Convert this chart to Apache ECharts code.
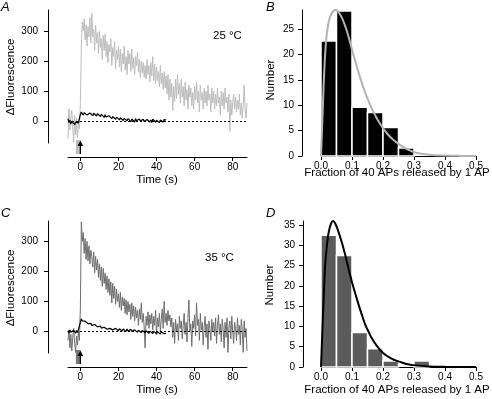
<!DOCTYPE html>
<html>
<head>
<meta charset="utf-8">
<script src="https://cdn.jsdelivr.net/npm/echarts@6/dist/echarts.min.js"></script>
<style>
  html, body { margin: 0; padding: 0; background: #fff; }
  #main { width: 492px; height: 399px; }
</style>
</head>
<body>
<div id="main"></div>
<script>
  // traces sampled every 0.5 s starting at -6.5 s
  var traceStart = -6.5;
  var traceStep = 0.5;

  var gray25 = [
    -60, 40, -30, 15, 35, -20, -70, 20, -45, 10,
    -55, 5, -25, 60, 250, 330, 300, 340, 270, 320,
    250, 315, 280, 345, 260, 360, 280, 305, 235, 320,
    260, 295, 225, 300, 245, 275, 205, 285, 235, 290,
    215, 265, 195, 255, 230, 275, 185, 245, 215, 265,
    175, 235, 205, 250, 180, 240, 165, 225, 190, 250,
    170, 215, 155, 235, 190, 225, 165, 240, 175, 210,
    155, 215, 185, 230, 165, 205, 145, 200, 160, 195,
    145, 185, 140, 205, 155, 185, 130, 195, 150, 215,
    135, 190, 125, 180, 135, 165, 115, 185, 125, 160,
    105, 165, 110, 150, 90, 155, 70, 140, 80, 125,
    35, 115, 65, 140, 75, 155, 90, 125, 60, 140,
    80, 115, 50, 130, 70, 105, 40, 120, 80, 110,
    50, 95, 40, 115, 70, 130, 60, 100, 30, 120,
    70, 95, 40, 110, 60, 100, 50, 120, 70, 90,
    30, 110, 60, 100, 40, 90, 50, 110, 60, 80,
    20, 100, 50, 95, 40, 110, 60, 80, 30, 90,
    -35, 70, 20, 60, 90, 40, 80, 30, 70, 40,
    90, 20, 60, 10, 50, 120, 40, 10, 60
  ];
  var black25 = [
    8, -5, 3, -10, 0, -6, 4, -12, -3, -8,
    2, -6, -2, 22, 30, 25, 20, 28, 22, 26,
    20, 25, 19, 27, 21, 24, 18, 26, 20, 23,
    17, 25, 19, 22, 15, 23, 17, 20, 12, 21,
    14, 19, 10, 18, 12, 16, 8, 15, 10, 14,
    6, 13, 8, 12, 4, 11, 6, 10, 2, 9,
    5, 10, 1, 8, 3, 9, -2, 7, 2, 6,
    -3, 8, 1, 6, -4, 7, 0, 5, -5, 6,
    -1, 4, -6, 5, 0, 7, -3, 4, -5, 6,
    0, 5, -4, 3, -2, 6, -5, 4, 0, 7,
    -3, 5, 1, 4
  ];
  var gray35 = [
    -30, 5, -55, -10, -65, -20, 10, -40, -70, -15,
    -45, 0, -30, 80, 365, 300, 330, 260, 310, 240,
    300, 235, 285, 225, 270, 250, 215, 265, 195, 250,
    205, 240, 180, 225, 170, 215, 150, 210, 160, 195,
    140, 185, 130, 175, 120, 165, 95, 160, 110, 150,
    90, 140, 100, 125, 80, 130, 70, 115, 85, 110,
    60, 105, 55, 100, 65, 90, 40, 95, 50, 85,
    35, 80, 45, 70, 20, 75, 40, 95, 30, 60,
    15, -55, 50, 20, 65, 10, 55, 25, 60, 5,
    50, 20, 70, -10, 45, 15, 60, 0, 40, 75,
    10, 100, 30, 60, 20, 70, 35, 55, 15, 45,
    -20, 30, -40, 40, 0, 25, -30, 50, 10, 35,
    -25, 20, 60, -10, 30, -35, 45, 105, 0, 25,
    -50, 35, 10, 55, -15, 95, 20, 40, -30, 60,
    5, 30, -45, 15, 50, -20, 25, -60, 35, 10,
    -30, 40, 0, 30, -15, 45, -40, 20, 55, -10,
    25, -35, 40, 5, -55, 30, -20, 45, -70, 15,
    35, -25, 50, 0, -40, 30, 10, -30, 45, -10,
    20, -45, 40, 5, -70, 35, -20, 10, -65
  ];
  var black35 = [
    2, -6, 5, -3, 0, -8, 4, -2, -6, 3,
    -4, 1, -3, 30, 42, 35, 38, 30, 34, 28,
    32, 26, 30, 22, 27, 20, 25, 18, 23, 17,
    21, 15, 19, 13, 18, 11, 16, 10, 14, 9,
    13, 7, 12, 6, 10, 4, 11, 5, 9, 3,
    10, 4, 8, 2, 9, 3, 7, 1, 8, 2,
    6, 0, 8, 1, 5, -1, 7, 0, 4, -2,
    5, -1, 3, -3, 4, 0, 2, -4, 3, -2,
    1, -5, 2, -3, 0, -6, 1, -4, -1, -7,
    0, -5, -2, -8, -1, -6, -3, -9, -2, -7,
    -4, -8, -5, -6
  ];

  var timeTicks = [0, 20, 40, 60, 80];
  var fluorTicks = [0, 100, 200, 300];
  var countTicks25 = [0, 5, 10, 15, 20, 25];
  var countTicks35 = [0, 5, 10, 15, 20, 25, 30, 35];

  // histograms: bin edges and counts
  var binEdges = [0, 0.05, 0.10, 0.15, 0.20, 0.25, 0.30, 0.35];
  var counts25 = [22.7, 28.6, 9.6, 8.6, 5.6, 1.6];
  var counts35 = [32.5, 27.5, 8.5, 4.5, 1.5, 0, 1.5];

  // fitted distributions
  var fitX25 = [0, 0.005, 0.010, 0.016, 0.022, 0.030, 0.040, 0.048, 0.058, 0.068, 0.080, 0.089, 0.100, 0.111, 0.122, 0.133, 0.143, 0.155, 0.165, 0.176, 0.186, 0.200, 0.218, 0.235, 0.250, 0.270, 0.290, 0.310, 0.350, 0.400, 0.450, 0.500];
  var fitY25 = [0, 8, 16, 22.5, 25.5, 27.6, 28.6, 28.8, 28.3, 27.2, 25.3, 23.5, 21, 18.6, 16.3, 14.2, 12.4, 10.6, 9.2, 7.9, 6.8, 5.5, 4.1, 3.1, 2.4, 1.6, 1.0, 0.6, 0.25, 0.08, 0.02, 0];
  var fitX35 = [0, 0.004, 0.0086, 0.014, 0.020, 0.0247, 0.032, 0.0387, 0.046, 0.057, 0.068, 0.0785, 0.089, 0.100, 0.111, 0.122, 0.133, 0.143, 0.154, 0.1645, 0.180, 0.197, 0.213, 0.229, 0.245, 0.261, 0.280, 0.304, 0.350, 0.400, 0.450, 0.500];
  var fitY35 = [0, 8, 16.8, 25.8, 30.5, 33.2, 35.3, 36, 35.4, 33.2, 30.5, 27.5, 24.2, 20.9, 18, 15.2, 12.6, 10.4, 8.6, 7.0, 5.2, 3.7, 2.7, 2.0, 1.5, 1.1, 0.7, 0.4, 0.15, 0.05, 0.01, 0];

  var FONT = '"Liberation Sans", Arial, Helvetica, sans-serif';

  function toPairs(vals) {
    return vals.map(function (v, i) { return [traceStart + i * traceStep, v]; });
  }
  function zip(xs, ys) {
    return xs.map(function (x, i) { return [x, ys[i]]; });
  }
  function bins(counts) {
    return counts.map(function (c, i) { return [binEdges[i], binEdges[i + 1], c]; });
  }

  var axisCommon = {
    axisLine: { onZero: false, lineStyle: { color: '#000', width: 1 } },
    axisTick: { lineStyle: { color: '#000' }, length: 4 },
    axisLabel: { color: '#000', fontSize: 10, fontFamily: FONT },
    splitLine: { show: false }
  };
  function ax(extra) {
    var o = JSON.parse(JSON.stringify(axisCommon));
    for (var k in extra) {
      if (typeof extra[k] === 'object' && !Array.isArray(extra[k]) && o[k]) {
        for (var j in extra[k]) o[k][j] = extra[k][j];
      } else {
        o[k] = extra[k];
      }
    }
    return o;
  }

  function histRender(color) {
    return function (params, api) {
      var h = api.value(2);
      if (!h) return null;
      var p0 = api.coord([api.value(0), h]);
      var p1 = api.coord([api.value(1), 0]);
      return {
        type: 'rect',
        shape: { x: p0[0], y: p0[1], width: p1[0] - p0[0], height: p1[1] - p0[1] },
        style: { fill: color, stroke: '#fff', lineWidth: 1.5 }
      };
    };
  }

  var zeroLine = {
    silent: true,
    symbol: 'none',
    label: { show: false },
    lineStyle: { color: '#000', type: [2, 2], width: 1 },
    data: [{ yAxis: 0 }]
  };

  var chart = echarts.init(document.getElementById('main'));
  chart.setOption({
    animation: false,
    backgroundColor: '#fff',
    grid: [
      { left: 68, top: 10, width: 179, height: 133 },
      { left: 321, top: 10, width: 155, height: 146 },
      { left: 68, top: 221, width: 179, height: 132 },
      { left: 321, top: 221, width: 155, height: 146 }
    ],
    xAxis: [
      ax({ type: 'value', gridIndex: 0, min: -6.5, max: 87.5, offset: 14,
        axisTick: { customValues: timeTicks }, axisLabel: { customValues: timeTicks, margin: 5 } }),
      ax({ type: 'value', gridIndex: 1, min: 0, max: 0.5, interval: 0.1,
        axisLabel: { margin: 5, formatter: function (v) { return v.toFixed(1); } } }),
      ax({ type: 'value', gridIndex: 2, min: -6.5, max: 87.5, offset: 14,
        axisTick: { customValues: timeTicks }, axisLabel: { customValues: timeTicks, margin: 5 } }),
      ax({ type: 'value', gridIndex: 3, min: 0, max: 0.5, interval: 0.1,
        axisLabel: { margin: 5, formatter: function (v) { return v.toFixed(1); } } })
    ],
    yAxis: [
      ax({ type: 'value', gridIndex: 0, min: -73, max: 370, offset: 20,
        axisTick: { customValues: fluorTicks }, axisLabel: { customValues: fluorTicks, margin: 10 } }),
      ax({ type: 'value', gridIndex: 1, min: 0, max: 28.8, offset: 19,
        axisTick: { customValues: countTicks25 }, axisLabel: { customValues: countTicks25, margin: 8 } }),
      ax({ type: 'value', gridIndex: 2, min: -72, max: 368, offset: 20,
        axisTick: { customValues: fluorTicks }, axisLabel: { customValues: fluorTicks, margin: 10 } }),
      ax({ type: 'value', gridIndex: 3, min: 0, max: 36, offset: 18,
        axisTick: { customValues: countTicks35 }, axisLabel: { customValues: countTicks35, margin: 8 } })
    ],
    series: [
      { type: 'line', xAxisIndex: 0, yAxisIndex: 0, data: toPairs(gray25), showSymbol: false,
        lineStyle: { color: '#bdbdbd', width: 1 }, silent: true },
      { type: 'line', xAxisIndex: 0, yAxisIndex: 0, data: toPairs(black25), showSymbol: false,
        lineStyle: { color: '#000', width: 1.2 }, silent: true, markLine: zeroLine },
      { type: 'custom', xAxisIndex: 1, yAxisIndex: 1, data: bins(counts25),
        encode: { x: [0, 1], y: 2 }, renderItem: histRender('#000'), silent: true },
      { type: 'line', xAxisIndex: 1, yAxisIndex: 1, data: zip(fitX25, fitY25), showSymbol: false,
        smooth: 0.4, lineStyle: { color: '#b3b3b3', width: 2 }, silent: true },
      { type: 'line', xAxisIndex: 2, yAxisIndex: 2, data: toPairs(gray35), showSymbol: false,
        lineStyle: { color: '#6e6e6e', width: 1 }, silent: true },
      { type: 'line', xAxisIndex: 2, yAxisIndex: 2, data: toPairs(black35), showSymbol: false,
        lineStyle: { color: '#000', width: 1.2 }, silent: true, markLine: zeroLine },
      { type: 'custom', xAxisIndex: 3, yAxisIndex: 3, data: bins(counts35),
        encode: { x: [0, 1], y: 2 }, renderItem: histRender('#5b5b5b'), silent: true },
      { type: 'line', xAxisIndex: 3, yAxisIndex: 3, data: zip(fitX35, fitY35), showSymbol: false,
        smooth: 0.4, lineStyle: { color: '#000', width: 2 }, silent: true }
    ]
  });

  function txt(s, x, y, size, opts) {
    opts = opts || {};
    return {
      type: 'text', x: x, y: y, rotation: opts.rot || 0, silent: true,
      style: {
        text: s, x: 0, y: 0, fill: '#000',
        font: (opts.italic ? 'italic ' : '') + size + 'px ' + FONT,
        align: opts.align || 'center', verticalAlign: opts.va || 'middle'
      }
    };
  }

  function stimArrow(gridIdx, baseY, grayColor) {
    var x0 = chart.convertToPixel({ xAxisIndex: gridIdx, yAxisIndex: gridIdx }, [0, 0])[0];
    return [
      { type: 'rect', silent: true, shape: { x: x0 - 4.5, y: baseY - 14, width: 4.5, height: 14 },
        style: { fill: grayColor } },
      { type: 'line', silent: true, shape: { x1: x0, y1: baseY, x2: x0, y2: baseY - 9 },
        style: { stroke: '#000', lineWidth: 1.2 } },
      { type: 'polygon', silent: true, shape: { points: [[x0 - 2.8, baseY - 8], [x0, baseY - 13.5], [x0 + 2.8, baseY - 8]] },
        style: { fill: '#000' } }
    ];
  }

  chart.setOption({
    graphic: [
      txt('A', 1, 1, 13, { italic: true, align: 'left', va: 'top' }),
      txt('B', 266, 1, 13, { italic: true, align: 'left', va: 'top' }),
      txt('C', 1, 207, 13, { italic: true, align: 'left', va: 'top' }),
      txt('D', 266, 207, 13, { italic: true, align: 'left', va: 'top' }),
      txt('25 °C', 213, 36, 11.5, { align: 'left' }),
      txt('35 °C', 205, 257.5, 11.5, { align: 'left' }),
      txt('ΔFluorescence', 11, 77, 11.5, { rot: Math.PI / 2 }),
      txt('ΔFluorescence', 11, 288, 11.5, { rot: Math.PI / 2 }),
      txt('Time (s)', 157, 180, 11.5),
      txt('Time (s)', 157, 390, 11.5),
      txt('Number', 271, 80, 11.5, { rot: Math.PI / 2 }),
      txt('Number', 270, 285, 11.5, { rot: Math.PI / 2 }),
      txt('Fraction of 40 APs released by 1 AP', 397, 172.5, 11.5),
      txt('Fraction of 40 APs released by 1 AP', 397, 390, 11.5)
    ].concat(stimArrow(0, 154, '#bdbdbd'), stimArrow(2, 364, '#777'))
  });
</script>
</body>
</html>
